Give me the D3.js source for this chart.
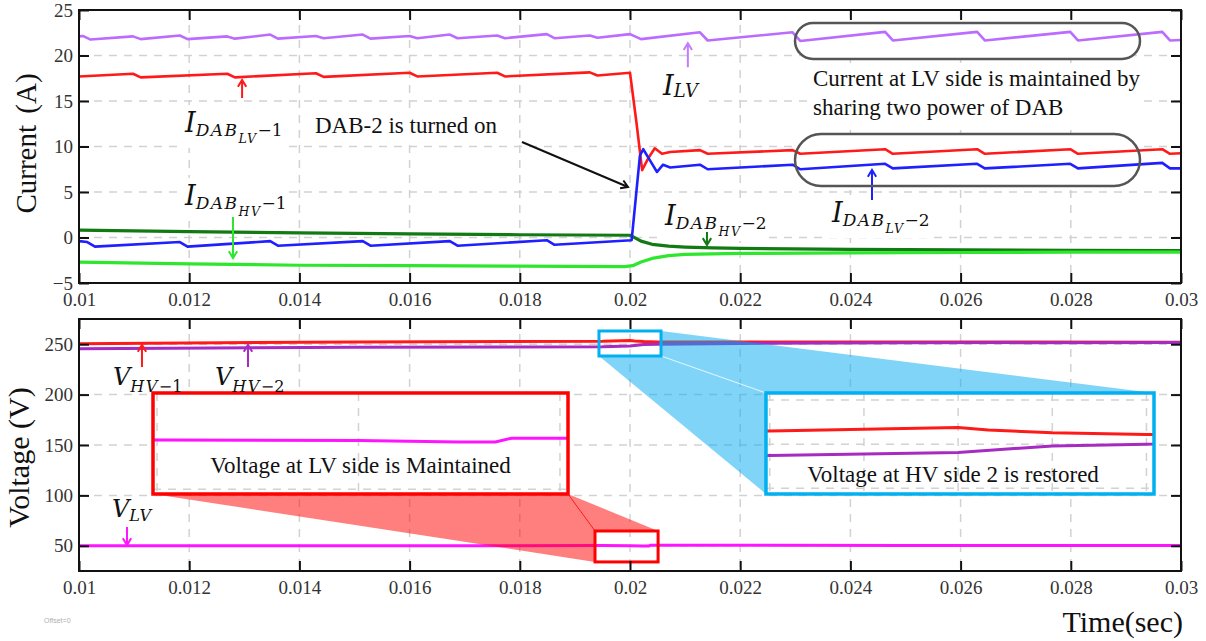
<html>
  <head>
    <meta charset="UTF-8">
    <script src="https://d3js.org/d3.v7.min.js"></script>
    <style>
      body { margin: 0; background: #fff; }
      svg { display: block; font-family: "Liberation Serif", "Times New Roman", serif; }
      .tick text { font-family: "Liberation Serif", serif; font-size: 19px; fill: #333; }
      .tick line { stroke: #111; stroke-width: 2; }
      .grid { stroke: #d2d2d2; stroke-width: 1.5; stroke-dasharray: 8 7; }
      .note { font-family: "Liberation Serif", serif; font-size: 23px; fill: #111; }
      .math { font-family: "DejaVu Serif", serif; fill: #111; }
    </style>
  </head>
  <body>
    <svg width="1206" height="641"></svg>
    <script>
      // ---- data ----
      const timeTicks = [0.01, 0.012, 0.014, 0.016, 0.018, 0.02, 0.022, 0.024, 0.026, 0.028, 0.03];
      const currentTicks = [-5, 0, 5, 10, 15, 20, 25];
      const voltageTicks = [50, 100, 150, 200, 250];

      // currents, [time (s), A]
      const iLV = [[0.0100, 22.1], [0.01007, 22.15], [0.01021, 21.75], [0.01098, 22.1], [0.01112, 21.8], [0.01183, 22.2], [0.01197, 21.8],
        [0.01269, 22.1], [0.01283, 21.85], [0.01347, 22.3], [0.01361, 21.85], [0.0143, 22.15], [0.01444, 21.9], [0.01515, 22.3], [0.01529, 21.85],
        [0.016, 22.15], [0.01614, 21.9], [0.01673, 22.3], [0.01687, 21.9], [0.01759, 22.2], [0.01773, 21.9], [0.01849, 22.35], [0.01863, 21.9],
        [0.01927, 22.2], [0.01941, 21.95], [0.0200, 22.35], [0.0202, 21.8], [0.02127, 22.55], [0.02141, 21.65], [0.02295, 22.55], [0.02309, 21.6],
        [0.02463, 22.6], [0.02477, 21.65], [0.0263, 22.6], [0.02644, 21.65], [0.02799, 22.6], [0.02813, 21.65], [0.02966, 22.6], [0.0298, 21.65], [0.0300, 21.7]];
      const iDabLV1 = [[0.0100, 17.7], [0.01098, 18.0], [0.01112, 17.6], [0.01269, 18.0], [0.01283, 17.6], [0.0143, 18.05], [0.01444, 17.65],
        [0.016, 18.1], [0.01614, 17.7], [0.01759, 18.1], [0.01773, 17.7], [0.01927, 18.15], [0.01941, 17.8], [0.0200, 18.1], [0.02012, 12.5],
        [0.02022, 7.4], [0.02034, 8.8], [0.02045, 9.8], [0.02058, 9.2], [0.02073, 9.4], [0.02127, 9.6], [0.02141, 9.2], [0.02295, 9.6], [0.02309, 9.2],
        [0.02463, 9.7], [0.02477, 9.2], [0.0263, 9.7], [0.02644, 9.2], [0.02799, 9.7], [0.02813, 9.2], [0.02966, 9.7], [0.0298, 9.2], [0.0300, 9.25]];
      const iDabLV2 = [[0.0100, -0.4], [0.01015, -0.5], [0.01029, -1.0], [0.01183, -0.5], [0.01197, -1.0], [0.01347, -0.4], [0.01361, -0.9],
        [0.01515, -0.4], [0.01529, -0.9], [0.01673, -0.4], [0.01687, -0.9], [0.01849, -0.3], [0.01863, -0.8], [0.02003, -0.3], [0.02018, 9.0],
        [0.02024, 9.7], [0.02036, 8.5], [0.02049, 7.2], [0.0206, 8.0], [0.02073, 7.7], [0.02127, 8.0], [0.02141, 7.5], [0.02295, 8.0], [0.02309, 7.5],
        [0.02463, 8.1], [0.02477, 7.6], [0.0263, 8.1], [0.02644, 7.6], [0.02799, 8.1], [0.02813, 7.6], [0.02966, 8.2], [0.0298, 7.6], [0.0300, 7.6]];
      const iDabHV1 = [[0.01, -2.7], [0.012, -2.9], [0.014, -3.05], [0.016, -3.1], [0.018, -3.15], [0.0199, -3.2], [0.02005, -3.1], [0.0202, -2.7],
        [0.0204, -2.3], [0.0207, -2.0], [0.021, -1.85], [0.022, -1.75], [0.024, -1.7], [0.026, -1.65], [0.028, -1.6], [0.03, -1.6]];
      const iDabHV2 = [[0.01, 0.8], [0.012, 0.65], [0.014, 0.5], [0.016, 0.4], [0.018, 0.3], [0.02, 0.25], [0.02005, 0.1], [0.0202, -0.4],
        [0.0204, -0.75], [0.0207, -0.95], [0.021, -1.05], [0.0215, -1.15], [0.022, -1.2], [0.024, -1.3], [0.026, -1.35], [0.028, -1.4], [0.03, -1.45]];

      // voltages, [time (s), V]
      const vHV1 = [[0.01, 250.5], [0.015, 252.2], [0.0195, 253.0], [0.02, 253.75], [0.02008, 253.2], [0.02025, 252.6], [0.0205, 252.2],
        [0.025, 252.2], [0.03, 252.0]];
      const vHV2 = [[0.01, 245.5], [0.015, 247.0], [0.0195, 247.4], [0.02, 248.1], [0.02025, 249.6], [0.0205, 250.0], [0.022, 250.8],
        [0.025, 251.4], [0.03, 251.8]];
      const vLV = [[0.01, 50.0], [0.015, 50.1], [0.0195, 50.2], [0.02, 50.1], [0.02025, 49.8], [0.02034, 49.8], [0.02038, 50.6], [0.0205, 50.6],
        [0.025, 50.4], [0.03, 50.3]];

      // ---- scales ----
      const svg = d3.select("svg");
      const x = d3.scaleLinear().domain([0.01, 0.03]).range([79, 1181]);
      const yI = d3.scaleLinear().domain([-5, 25]).range([283, 10]);
      const yV = d3.scaleLinear().domain([25, 275]).range([571, 319]);
      const yOf = { I: yI, V: yV };

      const gridLayer = svg.append("g");
      const bgLayer = svg.append("g");
      const lineLayer = svg.append("g");
      const zoomLayer = svg.append("g");
      const axisLayer = svg.append("g");
      const annot = svg.append("g");

      const fmtT = (d) => String(+d.toFixed(3));

      function panel(y, ticks) {
        const [yb, yt] = y.range();
        const [xl, xr] = x.range();
        gridLayer.append("g").selectAll("line").data(timeTicks.slice(1, -1)).join("line")
          .attr("class", "grid").attr("x1", (d) => x(d)).attr("x2", (d) => x(d)).attr("y1", yt).attr("y2", yb);
        gridLayer.append("g").selectAll("line").data(ticks.filter((d) => y(d) > yt + 1 && y(d) < yb - 1)).join("line")
          .attr("class", "grid").attr("y1", (d) => y(d)).attr("y2", (d) => y(d)).attr("x1", xl).attr("x2", xr);

        const g = axisLayer.append("g");
        g.append("g").attr("transform", `translate(0,${yb})`)
          .call(d3.axisBottom(x).tickValues(timeTicks).tickSizeInner(-10).tickSizeOuter(0).tickPadding(10).tickFormat(fmtT));
        g.append("g").attr("transform", `translate(0,${yt})`)
          .call(d3.axisTop(x).tickValues(timeTicks).tickSizeInner(-10).tickSizeOuter(0).tickFormat(""));
        g.append("g").attr("transform", `translate(${xl},0)`)
          .call(d3.axisLeft(y).tickValues(ticks).tickSizeInner(-10).tickSizeOuter(0).tickPadding(6));
        g.append("g").attr("transform", `translate(${xr},0)`)
          .call(d3.axisRight(y).tickValues(ticks).tickSizeInner(-10).tickSizeOuter(0).tickFormat(""));
        g.selectAll(".domain").remove();
        g.selectAll("g").attr("font-family", "Liberation Serif").attr("font-size", 19);
        g.selectAll(".tick text").attr("font-family", "Liberation Serif");
        g.append("rect").attr("x", xl).attr("y", yt).attr("width", xr - xl).attr("height", yb - yt)
          .attr("fill", "none").attr("stroke", "#111").attr("stroke-width", 2);
      }
      panel(yI, currentTicks);
      panel(yV, voltageTicks);

      // ---- series ----
      const lineI = d3.line().x((d) => x(d[0])).y((d) => yI(d[1]));
      const lineV = d3.line().x((d) => x(d[0])).y((d) => yV(d[1]));
      const currentSeries = [
        [iDabHV2, "#127a12", 3.2], [iDabHV1, "#2ee62e", 3.2], [iLV, "#bb6cff", 2.6],
        [iDabLV1, "#ff1a1a", 2.6], [iDabLV2, "#1f1fff", 2.6]
      ];
      const voltageSeries = [[vLV, "#ff14ff", 3], [vHV1, "#ff1a1a", 3], [vHV2, "#a62bc0", 3]];
      currentSeries.forEach(([d, c, w]) => lineLayer.append("path").attr("d", lineI(d))
        .attr("fill", "none").attr("stroke", c).attr("stroke-width", w).attr("stroke-linejoin", "round"));
      voltageSeries.forEach(([d, c, w]) => lineLayer.append("path").attr("d", lineV(d))
        .attr("fill", "none").attr("stroke", c).attr("stroke-width", w).attr("stroke-linejoin", "round"));

      // ---- zoom insets (bottom panel) ----
      const insetT = [0.01949, 0.02052];
      const insets = [
        { id: "lv", box: { t: [0.019365, 0.02051], v: [34, 64.7] }, pane: { t: [0.011343, 0.018875], v: [101.4, 201.6] },
          vDomain: [39, 60], gridT: [0.0195, 0.02, 0.0205], gridV: [40, 60], series: [[vLV, "#ff14ff"]],
          color: "#ff0000", fill: "rgba(255,0,0,0.5)", text: "Voltage at LV side is Maintained", textAt: [0.015109, 122.2] },
        { id: "hv", box: { t: [0.019437, 0.020563], v: [238.3, 263.1] }, pane: { t: [0.022468, 0.02951], v: [101.4, 201.6] },
          vDomain: [238.7, 261.6], gridT: [0.0195, 0.01975, 0.02, 0.02025, 0.0205], gridV: [240, 250, 260],
          series: [[vHV1, "#ff1a1a"], [vHV2, "#a62bc0"]],
          color: "#00b0f0", fill: "rgba(0,170,240,0.5)", text: "Voltage at HV side 2 is restored", textAt: [0.025862, 113.3] }
      ];
      const defs = svg.append("defs");
      insets.forEach((s) => {
        const bx0 = x(s.box.t[0]), bx1 = x(s.box.t[1]), by0 = yV(s.box.v[1]), by1 = yV(s.box.v[0]);
        const px0 = x(s.pane.t[0]), px1 = x(s.pane.t[1]), py0 = yV(s.pane.v[1]), py1 = yV(s.pane.v[0]);
        const poly = s.id === "lv"
          ? [[px0, py1], [px1, py1], [bx1, by0], [bx0, by0], [bx0, by1]]
          : [[bx1, by0], [px1, py0], [px0, py0], [px0, py1], [bx0, by1], [bx1, by1]];
        zoomLayer.append("path").attr("d", "M" + poly.join("L") + "Z").attr("fill", s.fill);
        const thin = s.id === "lv" ? [[px1, py1], [bx0, by0]] : [[bx1, by1], [px0, py0]];
        zoomLayer.append("path").attr("d", "M" + thin.join("L"))
          .attr("stroke", s.id === "lv" ? "#ff0000" : "#ffffff").attr("stroke-opacity", 0.8).attr("stroke-width", 1);
        zoomLayer.append("rect").attr("x", bx0).attr("y", by0).attr("width", bx1 - bx0).attr("height", by1 - by0)
          .attr("fill", "none").attr("stroke", s.color).attr("stroke-width", 3);

        const ix = d3.scaleLinear().domain(insetT).range([px0, px1]);
        const iy = d3.scaleLinear().domain(s.vDomain).range([py1, py0]);
        defs.append("clipPath").attr("id", "clip-" + s.id).append("rect")
          .attr("x", px0).attr("y", py0).attr("width", px1 - px0).attr("height", py1 - py0);
        const g = zoomLayer.append("g");
        g.append("rect").attr("x", px0).attr("y", py0).attr("width", px1 - px0).attr("height", py1 - py0).attr("fill", "#fff");
        const gi = g.append("g").attr("clip-path", `url(#clip-${s.id})`);
        gi.selectAll("line.gv").data(s.gridT).join("line").attr("class", "grid")
          .attr("x1", (d) => ix(d)).attr("x2", (d) => ix(d)).attr("y1", py0).attr("y2", py1);
        gi.selectAll("line.gh").data(s.gridV).join("line").attr("class", "grid")
          .attr("y1", (d) => iy(d)).attr("y2", (d) => iy(d)).attr("x1", px0).attr("x2", px1);
        const il = d3.line().x((d) => ix(d[0])).y((d) => iy(d[1]));
        s.series.forEach(([d, c]) => gi.append("path").attr("d", il(d)).attr("fill", "none")
          .attr("stroke", c).attr("stroke-width", 3));
        g.append("text").attr("class", "note").attr("x", x(s.textAt[0])).attr("y", yV(s.textAt[1]))
          .attr("text-anchor", "middle").text(s.text);
        g.append("rect").attr("x", px0).attr("y", py0).attr("width", px1 - px0).attr("height", py1 - py0)
          .attr("fill", "none").attr("stroke", s.color).attr("stroke-width", 3.5);
      });

      // ---- annotations ----
      function arrow(p, from, to, color) {
        const y = yOf[p];
        const x1 = x(from[0]), y1 = y(from[1]), x2 = x(to[0]), y2 = y(to[1]);
        const a = Math.atan2(y2 - y1, x2 - x1), h = 8;
        const path = d3.path();
        path.moveTo(x1, y1); path.lineTo(x2, y2);
        path.moveTo(x2 - h * Math.cos(a - 0.55), y2 - h * Math.sin(a - 0.55));
        path.lineTo(x2, y2);
        path.lineTo(x2 - h * Math.cos(a + 0.55), y2 - h * Math.sin(a + 0.55));
        annot.append("path").attr("d", path.toString()).attr("fill", "none").attr("stroke", color)
          .attr("stroke-width", 2).attr("stroke-linejoin", "miter");
      }
      const arrows = [
        ["I", [0.02105, 18.7], [0.02105, 21.35], "#c27dff"],
        ["I", [0.01296, 15.33], [0.01296, 17.31], "#ff1a1a"],
        ["I", [0.012795, 2.25], [0.012795, -2.25], "#2ee62e"],
        ["I", [0.021397, 0.6], [0.021397, -0.82], "#127a12"],
        ["I", [0.024392, 4.12], [0.024392, 7.42], "#1f1fff"],
        ["I", [0.01804, 10.49], [0.019964, 5.55], "#111"],
        ["V", [0.011143, 227.4], [0.011143, 249.2], "#ff1a1a"],
        ["V", [0.013067, 227.4], [0.013067, 249.2], "#a62bc0"],
        ["V", [0.010871, 68.6], [0.010871, 50.8], "#ff14ff"]
      ];
      arrows.forEach((a) => arrow(...a));

      function whiteBehind(node, pad) {
        const b = node.getBBox();
        bgLayer.append("rect").attr("x", b.x - pad).attr("y", b.y - pad)
          .attr("width", b.width + 2 * pad).attr("height", b.height + 2 * pad).attr("fill", "#fff");
      }

      // [text, font size, baseline offset, italic]
      const mathNotes = [
        ["I", 0.0206, 15.66, [["I", 27, 0, 1], ["LV", 18, 2, 1]]],
        ["I", 0.011924, 11.59, [["I", 27, 0, 1], ["DAB", 17, 4, 1], ["LV", 12.5, 11, 1], ["−1", 17, 4, 0]]],
        ["I", 0.011924, 3.57, [["I", 27, 0, 1], ["DAB", 17, 4, 1], ["HV", 12.5, 11, 1], ["−1", 17, 4, 0]]],
        ["I", 0.020635, 1.37, [["I", 27, 0, 1], ["DAB", 17, 4, 1], ["HV", 12.5, 11, 1], ["−2", 17, 4, 0]]],
        ["I", 0.023666, 1.70, [["I", 27, 0, 1], ["DAB", 17, 4, 1], ["LV", 12.5, 11, 1], ["−2", 17, 4, 0]]],
        ["V", 0.010617, 209.5, [["V", 24, 0, 1], ["HV", 16, 7, 1], ["−1", 16, 7, 0]]],
        ["V", 0.012468, 209.5, [["V", 24, 0, 1], ["HV", 16, 7, 1], ["−2", 16, 7, 0]]],
        ["V", 0.010599, 78.6, [["V", 24, 0, 1], ["LV", 16, 4, 1]]]
      ];
      mathNotes.forEach(([p, t, v, parts]) => {
        const txt = annot.append("text").attr("class", "math").attr("x", x(t)).attr("y", yOf[p](v));
        let base = 0;
        parts.forEach(([s, size, off, it]) => {
          txt.append("tspan").attr("dy", off - base).attr("font-size", size)
            .attr("font-style", it ? "italic" : "normal").attr("letter-spacing", size < 20 && it ? 1.5 : 0).text(s);
          base = off;
        });
        if (p === "I") whiteBehind(txt.node(), 2);
      });

      const turned = annot.append("text").attr("class", "note").attr("x", x(0.014283)).attr("y", yI(11.48)).text("DAB-2 is turned on");
      whiteBehind(turned.node(), 2);

      const share = annot.append("text").attr("class", "note");
      share.append("tspan").attr("x", x(0.023321)).attr("y", yI(16.65)).text("Current at LV side is maintained by");
      share.append("tspan").attr("x", x(0.023321)).attr("y", yI(13.46)).text("sharing two power of DAB");
      whiteBehind(share.node(), 3);

      const pills = [[[0.022995, 0.029256], [19.62, 23.57]], [[0.022995, 0.029256], [5.66, 11.37]]];
      pills.forEach(([tr, vr]) => {
        const px = x(tr[0]), py = yI(vr[1]), w = x(tr[1]) - x(tr[0]), h = yI(vr[0]) - yI(vr[1]);
        bgLayer.append("rect").attr("x", px).attr("y", py).attr("width", w).attr("height", h).attr("rx", h / 2).attr("fill", "#fff");
        annot.append("rect").attr("x", px).attr("y", py).attr("width", w).attr("height", h).attr("rx", h / 2)
          .attr("fill", "none").attr("stroke", "#555").attr("stroke-width", 2.5);
      });

      // ---- axis titles ----
      svg.append("text").attr("transform", "translate(36,143.5) rotate(-90)").attr("text-anchor", "middle")
        .attr("font-size", 29).attr("word-spacing", 4).attr("fill", "#111").text("Current (A)");
      svg.append("text").attr("transform", "translate(29,457.5) rotate(-90)").attr("text-anchor", "middle")
        .attr("font-size", 30).attr("fill", "#111").text("Voltage (V)");
      svg.append("text").attr("x", 1183).attr("y", 632).attr("text-anchor", "end")
        .attr("font-size", 30).attr("fill", "#111").text("Time(sec)");
      svg.append("text").attr("x", 44).attr("y", 623).attr("font-size", 7).attr("font-family", "Liberation Sans")
        .attr("fill", "#b0b0b0").text("Offset=0");
    </script>
  </body>
</html>
